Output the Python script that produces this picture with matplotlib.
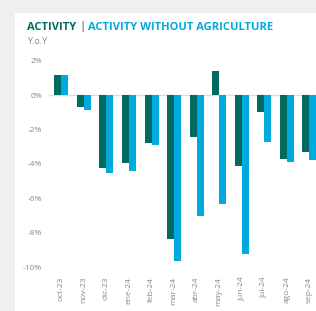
import numpy as np
import matplotlib.pyplot as plt
from matplotlib.patches import Rectangle

months = ['oct-23', 'nov-23', 'dic-23', 'ene-24', 'feb-24', 'mar-24',
          'abr-24', 'may-24', 'jun-24', 'jul-24', 'ago-24', 'sep-24']
activity = [1.2, -0.7, -4.24, -3.97, -2.79, -8.34, -2.43, 1.39, -4.14, -0.98, -3.72, -3.28]
activity_no_agri = [1.2, -0.83, -4.55, -4.43, -2.89, -9.64, -7.0, -6.32, -9.27, -2.72, -3.87, -3.78]
yticks = [2, 0, -2, -4, -6, -8, -10]

dark = '#006b5e'
light = '#00a9de'
grey = '#8a8a8a'

W, H = 316, 311
fig = plt.figure(figsize=(W / 100, H / 100), dpi=100)
fig.patch.set_facecolor('#efefef')

# white card behind everything
card = Rectangle((15 / W, 0), 1, (H - 13) / H, transform=fig.transFigure,
                 facecolor='white', edgecolor='none', zorder=-10)
fig.patches.append(card)

fig.text(27 / W, 1 - 27 / H, 'ACTIVITY', color=dark, fontsize=8, fontweight='bold',
         family='Open Sans', va='center')
fig.text(79 / W, 1 - 27 / H, '|', color=grey, fontsize=8, fontweight='bold',
         family='Open Sans', va='center')
fig.text(88 / W, 1 - 27 / H, 'ACTIVITY WITHOUT AGRICULTURE', color=light, fontsize=8,
         fontweight='bold', family='Open Sans', va='center')
fig.text(27 / W, 1 - 41 / H, 'Y.o.Y', color=grey, fontsize=6.5, family='Open Sans',
         va='center')

ax_top, ax_bot = 54.1, 273.9
ax = fig.add_axes([49 / W, (H - ax_bot) / H, (W - 49) / W, (ax_bot - ax_top) / H])
ax.set_facecolor('none')
ax.set_zorder(5)

x = np.arange(len(months))
bw = 0.31
ax.bar(x - bw / 2, activity, width=bw, color=dark, zorder=3)
ax.bar(x + bw / 2, activity_no_agri, width=bw, color=light, zorder=3)
ax.axhline(0, color='#dcdcdc', linewidth=1, zorder=1)

ax.set_xlim(-0.55, 11.3)
ax.set_ylim(-10.4, 2.4)
ax.set_yticks(yticks)
ax.set_yticklabels([f'{v}%' for v in yticks])
ax.set_xticks(x)
ax.set_xticklabels(months, rotation=90)
for lab in ax.get_xticklabels() + ax.get_yticklabels():
    lab.set_family('Open Sans')
    lab.set_color(grey)
    lab.set_fontsize(6)
ax.tick_params(axis='both', length=0)
ax.tick_params(axis='y', pad=5)
ax.tick_params(axis='x', pad=2)
for s in ax.spines.values():
    s.set_visible(False)

fig.savefig('out.png', dpi=100, facecolor=fig.get_facecolor())
